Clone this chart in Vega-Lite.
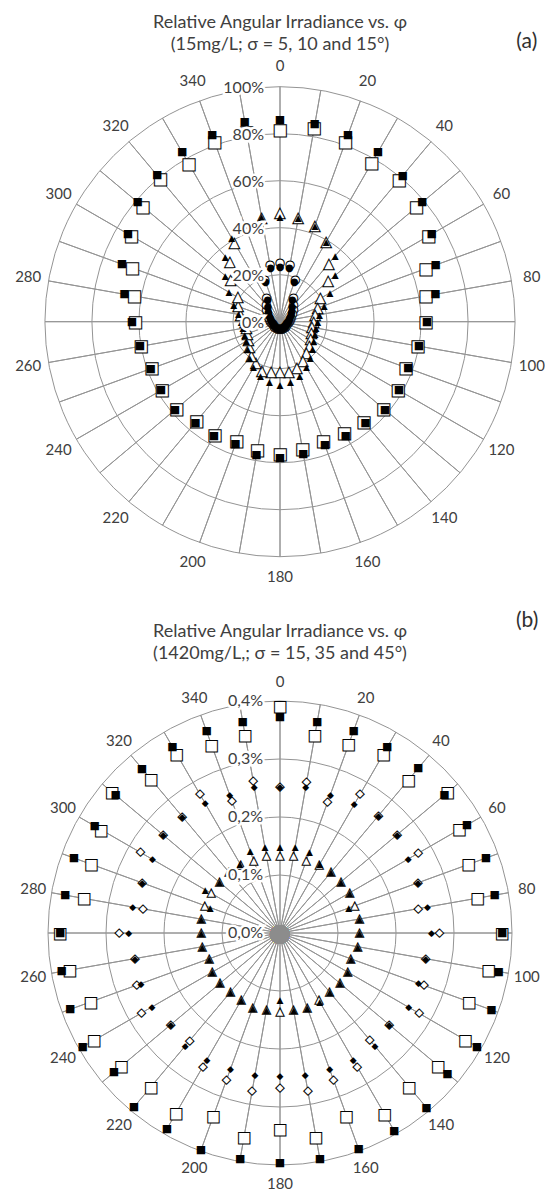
{
  "$schema": "https://vega.github.io/schema/vega-lite/v6.json",
  "padding": {"left": 15, "top": 0, "right": 0, "bottom": 0},
  "width": 530,
  "height": 1190,
  "resolve": {"scale": {"radius": "independent"}},
  "config": {
    "view": {"stroke": null},
    "locale": {"number": {"decimal": ",", "thousands": ".", "grouping": [3], "currency": ["", " €"]}}
  },
  "datasets": {
    "a": [
      {"phi": 0, "SQF": 0.858, "SQO": 0.816, "TRF": 0.447, "TRO": 0.461, "CIF": 0.234, "CIO": 0.248},
      {"phi": 10, "SQF": 0.853, "SQO": 0.835, "TRF": 0.446, "TRO": 0.446, "CIF": 0.230, "CIO": 0.245},
      {"phi": 20, "SQF": 0.845, "SQO": 0.814, "TRF": 0.434, "TRO": 0.434, "CIF": 0.180, "CIO": 0.190},
      {"phi": 30, "SQF": 0.833, "SQO": 0.779, "TRF": 0.393, "TRO": 0.393, "CIF": 0.105, "CIO": 0.115},
      {"phi": 40, "SQF": 0.812, "SQO": 0.789, "TRF": 0.366, "TRO": 0.323, "CIF": 0.080, "CIO": 0.090},
      {"phi": 50, "SQF": 0.790, "SQO": 0.757, "TRF": 0.306, "TRO": 0.268, "CIF": 0.065, "CIO": 0.075},
      {"phi": 60, "SQF": 0.745, "SQO": 0.730, "TRF": 0.245, "TRO": 0.198, "CIF": 0.055, "CIO": 0.062},
      {"phi": 70, "SQF": 0.705, "SQO": 0.660, "TRF": 0.200, "TRO": 0.170, "CIF": 0.045, "CIO": 0.050},
      {"phi": 80, "SQF": 0.672, "SQO": 0.630, "TRF": 0.170, "TRO": 0.152, "CIF": 0.040, "CIO": 0.045},
      {"phi": 90, "SQF": 0.625, "SQO": 0.620, "TRF": 0.160, "TRO": 0.143, "CIF": 0.035, "CIO": 0.040},
      {"phi": 100, "SQF": 0.600, "SQO": 0.595, "TRF": 0.155, "TRO": 0.138, "CIF": 0.032, "CIO": 0.035},
      {"phi": 110, "SQF": 0.580, "SQO": 0.570, "TRF": 0.158, "TRO": 0.142, "CIF": 0.030, "CIO": 0.033},
      {"phi": 120, "SQF": 0.585, "SQO": 0.580, "TRF": 0.165, "TRO": 0.150, "CIF": 0.030, "CIO": 0.032},
      {"phi": 130, "SQF": 0.583, "SQO": 0.575, "TRF": 0.180, "TRO": 0.163, "CIF": 0.030, "CIO": 0.032},
      {"phi": 140, "SQF": 0.565, "SQO": 0.555, "TRF": 0.200, "TRO": 0.175, "CIF": 0.030, "CIO": 0.032},
      {"phi": 150, "SQF": 0.560, "SQO": 0.548, "TRF": 0.225, "TRO": 0.195, "CIF": 0.030, "CIO": 0.032},
      {"phi": 160, "SQF": 0.558, "SQO": 0.540, "TRF": 0.244, "TRO": 0.210, "CIF": 0.030, "CIO": 0.032},
      {"phi": 170, "SQF": 0.570, "SQO": 0.550, "TRF": 0.259, "TRO": 0.217, "CIF": 0.030, "CIO": 0.032},
      {"phi": 180, "SQF": 0.580, "SQO": 0.565, "TRF": 0.270, "TRO": 0.213, "CIF": 0.030, "CIO": 0.032},
      {"phi": 190, "SQF": 0.575, "SQO": 0.555, "TRF": 0.259, "TRO": 0.217, "CIF": 0.030, "CIO": 0.032},
      {"phi": 200, "SQF": 0.555, "SQO": 0.540, "TRF": 0.244, "TRO": 0.225, "CIF": 0.030, "CIO": 0.032},
      {"phi": 210, "SQF": 0.563, "SQO": 0.555, "TRF": 0.225, "TRO": 0.205, "CIF": 0.030, "CIO": 0.032},
      {"phi": 220, "SQF": 0.560, "SQO": 0.552, "TRF": 0.200, "TRO": 0.190, "CIF": 0.030, "CIO": 0.032},
      {"phi": 230, "SQF": 0.583, "SQO": 0.575, "TRF": 0.180, "TRO": 0.170, "CIF": 0.030, "CIO": 0.032},
      {"phi": 240, "SQF": 0.585, "SQO": 0.580, "TRF": 0.165, "TRO": 0.155, "CIF": 0.030, "CIO": 0.032},
      {"phi": 250, "SQF": 0.585, "SQO": 0.580, "TRF": 0.160, "TRO": 0.148, "CIF": 0.030, "CIO": 0.033},
      {"phi": 260, "SQF": 0.605, "SQO": 0.600, "TRF": 0.160, "TRO": 0.145, "CIF": 0.032, "CIO": 0.035},
      {"phi": 270, "SQF": 0.630, "SQO": 0.616, "TRF": 0.165, "TRO": 0.148, "CIF": 0.035, "CIO": 0.040},
      {"phi": 280, "SQF": 0.672, "SQO": 0.630, "TRF": 0.180, "TRO": 0.170, "CIF": 0.040, "CIO": 0.045},
      {"phi": 290, "SQF": 0.716, "SQO": 0.669, "TRF": 0.210, "TRO": 0.190, "CIF": 0.045, "CIO": 0.050},
      {"phi": 300, "SQF": 0.747, "SQO": 0.731, "TRF": 0.251, "TRO": 0.207, "CIF": 0.055, "CIO": 0.062},
      {"phi": 310, "SQF": 0.790, "SQO": 0.762, "TRF": 0.304, "TRO": 0.274, "CIF": 0.065, "CIO": 0.075},
      {"phi": 320, "SQF": 0.813, "SQO": 0.792, "TRF": 0.362, "TRO": 0.331, "CIF": 0.080, "CIO": 0.090},
      {"phi": 330, "SQF": 0.833, "SQO": 0.776, "TRF": 0.410, "TRO": 0.388, "CIF": 0.105, "CIO": 0.115},
      {"phi": 340, "SQF": 0.845, "SQO": 0.815, "TRF": 0.440, "TRO": 0.430, "CIF": 0.180, "CIO": 0.190},
      {"phi": 350, "SQF": 0.864, "SQO": 0.820, "TRF": 0.453, "TRO": 0.450, "CIF": 0.230, "CIO": 0.245}
    ],
    "b": [
      {"phi": 0, "SQF": 0.00372, "SQO": 0.00392, "DMF": 0.00251, "DMO": 0.00252, "TRF": 0.00149, "TRO": 0.00132, "GRY": 0},
      {"phi": 10, "SQF": 0.00369, "SQO": 0.00346, "DMF": 0.00255, "DMO": 0.00264, "TRF": 0.00151, "TRO": 0.00134, "GRY": 0},
      {"phi": 20, "SQF": 0.00371, "SQO": 0.00346, "DMF": 0.00254, "DMO": 0.00240, "TRF": 0.00148, "TRO": 0.00132, "GRY": 0},
      {"phi": 30, "SQF": 0.00370, "SQO": 0.00357, "DMF": 0.00256, "DMO": 0.00276, "TRF": 0.00137, "TRO": 0.00135, "GRY": 0},
      {"phi": 40, "SQF": 0.00371, "SQO": 0.00345, "DMF": 0.00264, "DMO": 0.00264, "TRF": 0.00137, "TRO": 0.00137, "GRY": 0},
      {"phi": 50, "SQF": 0.00370, "SQO": 0.00377, "DMF": 0.00264, "DMO": 0.00264, "TRF": 0.00137, "TRO": 0.00137, "GRY": 0},
      {"phi": 60, "SQF": 0.00372, "SQO": 0.00357, "DMF": 0.00255, "DMO": 0.00275, "TRF": 0.00139, "TRO": 0.00139, "GRY": 0},
      {"phi": 70, "SQF": 0.00378, "SQO": 0.00346, "DMF": 0.00253, "DMO": 0.00253, "TRF": 0.00126, "TRO": 0.00137, "GRY": 0},
      {"phi": 80, "SQF": 0.00376, "SQO": 0.00346, "DMF": 0.00258, "DMO": 0.00242, "TRF": 0.00139, "TRO": 0.00139, "GRY": 0},
      {"phi": 90, "SQF": 0.00383, "SQO": 0.00383, "DMF": 0.00261, "DMO": 0.00275, "TRF": 0.00137, "TRO": 0.00137, "GRY": 0},
      {"phi": 100, "SQF": 0.00383, "SQO": 0.00365, "DMF": 0.00255, "DMO": 0.00255, "TRF": 0.00136, "TRO": 0.00136, "GRY": 0},
      {"phi": 110, "SQF": 0.00388, "SQO": 0.00347, "DMF": 0.00254, "DMO": 0.00264, "TRF": 0.00130, "TRO": 0.00130, "GRY": 0},
      {"phi": 120, "SQF": 0.00392, "SQO": 0.00369, "DMF": 0.00256, "DMO": 0.00277, "TRF": 0.00135, "TRO": 0.00135, "GRY": 0},
      {"phi": 130, "SQF": 0.00377, "SQO": 0.00356, "DMF": 0.00246, "DMO": 0.00246, "TRF": 0.00135, "TRO": 0.00135, "GRY": 0},
      {"phi": 140, "SQF": 0.00393, "SQO": 0.00346, "DMF": 0.00255, "DMO": 0.00241, "TRF": 0.00133, "TRO": 0.00133, "GRY": 0},
      {"phi": 150, "SQF": 0.00394, "SQO": 0.00361, "DMF": 0.00252, "DMO": 0.00266, "TRF": 0.00137, "TRO": 0.00134, "GRY": 0},
      {"phi": 160, "SQF": 0.00397, "SQO": 0.00335, "DMF": 0.00250, "DMO": 0.00270, "TRF": 0.00137, "TRO": 0.00137, "GRY": 0},
      {"phi": 170, "SQF": 0.00396, "SQO": 0.00357, "DMF": 0.00249, "DMO": 0.00277, "TRF": 0.00135, "TRO": 0.00135, "GRY": 0},
      {"phi": 180, "SQF": 0.00397, "SQO": 0.00338, "DMF": 0.00247, "DMO": 0.00267, "TRF": 0.00116, "TRO": 0.00137, "GRY": 0},
      {"phi": 190, "SQF": 0.00396, "SQO": 0.00357, "DMF": 0.00249, "DMO": 0.00277, "TRF": 0.00135, "TRO": 0.00135, "GRY": 0},
      {"phi": 200, "SQF": 0.00398, "SQO": 0.00336, "DMF": 0.00250, "DMO": 0.00270, "TRF": 0.00137, "TRO": 0.00137, "GRY": 0},
      {"phi": 210, "SQF": 0.00390, "SQO": 0.00358, "DMF": 0.00252, "DMO": 0.00266, "TRF": 0.00134, "TRO": 0.00134, "GRY": 0},
      {"phi": 220, "SQF": 0.00392, "SQO": 0.00346, "DMF": 0.00254, "DMO": 0.00242, "TRF": 0.00133, "TRO": 0.00133, "GRY": 0},
      {"phi": 230, "SQF": 0.00374, "SQO": 0.00357, "DMF": 0.00246, "DMO": 0.00246, "TRF": 0.00135, "TRO": 0.00135, "GRY": 0},
      {"phi": 240, "SQF": 0.00393, "SQO": 0.00370, "DMF": 0.00255, "DMO": 0.00276, "TRF": 0.00135, "TRO": 0.00135, "GRY": 0},
      {"phi": 250, "SQF": 0.00385, "SQO": 0.00347, "DMF": 0.00255, "DMO": 0.00263, "TRF": 0.00130, "TRO": 0.00130, "GRY": 0},
      {"phi": 260, "SQF": 0.00382, "SQO": 0.00368, "DMF": 0.00254, "DMO": 0.00254, "TRF": 0.00136, "TRO": 0.00136, "GRY": 0},
      {"phi": 270, "SQF": 0.00379, "SQO": 0.00379, "DMF": 0.00261, "DMO": 0.00277, "TRF": 0.00136, "TRO": 0.00136, "GRY": 0},
      {"phi": 280, "SQF": 0.00376, "SQO": 0.00343, "DMF": 0.00258, "DMO": 0.00240, "TRF": 0.00138, "TRO": 0.00138, "GRY": 0},
      {"phi": 290, "SQF": 0.00378, "SQO": 0.00346, "DMF": 0.00253, "DMO": 0.00253, "TRF": 0.00128, "TRO": 0.00138, "GRY": 0},
      {"phi": 300, "SQF": 0.00369, "SQO": 0.00356, "DMF": 0.00254, "DMO": 0.00278, "TRF": 0.00149, "TRO": 0.00137, "GRY": 0},
      {"phi": 310, "SQF": 0.00370, "SQO": 0.00378, "DMF": 0.00263, "DMO": 0.00263, "TRF": 0.00136, "TRO": 0.00136, "GRY": 0},
      {"phi": 320, "SQF": 0.00370, "SQO": 0.00346, "DMF": 0.00262, "DMO": 0.00262, "TRF": 0.00137, "TRO": 0.00137, "GRY": 0},
      {"phi": 330, "SQF": 0.00371, "SQO": 0.00357, "DMF": 0.00258, "DMO": 0.00276, "TRF": 0.00138, "TRO": 0.00135, "GRY": 0},
      {"phi": 340, "SQF": 0.00370, "SQO": 0.00345, "DMF": 0.00253, "DMO": 0.00242, "TRF": 0.00150, "TRO": 0.00133, "GRY": 0},
      {"phi": 350, "SQF": 0.00370, "SQO": 0.00347, "DMF": 0.00256, "DMO": 0.00266, "TRF": 0.00150, "TRO": 0.00134, "GRY": 0}
    ],
    "ringsA": [{"v": 0}, {"v": 0.2}, {"v": 0.4}, {"v": 0.6}, {"v": 0.8}, {"v": 1}],
    "ringsB": [{"v": 0}, {"v": 0.001}, {"v": 0.002}, {"v": 0.003}, {"v": 0.004}],
    "titles": [
      {"panel": "a", "title": ["Relative Angular Irradiance vs. φ", "(15mg/L; σ = 5, 10 and 15°)"], "tag": "(a)"},
      {"panel": "b", "title": ["Relative Angular Irradiance vs. φ", "(1420mg/L,; σ = 15, 35 and 45°)"], "tag": "(b)"}
    ]
  },
  "layer": [
    {"data": {"name": "ringsA"}, "mark": {"type": "arc", "filled": false, "stroke": "#949494", "strokeWidth": 1, "theta": 0, "theta2": 6.2832},
     "encoding": {"y": {"datum": "a", "type": "nominal", "scale": {"type": "point", "domain": ["a", "b"], "range": [321.7, 933], "padding": 0}, "axis": null},
                  "radius": {"field": "v", "type": "quantitative", "stack": null, "scale": {"type": "linear", "domain": [0, 1], "range": [0, 235]}}}},
    {"data": {"name": "a"}, "mark": {"type": "arc", "filled": false, "stroke": "#949494", "strokeWidth": 1},
     "encoding": {"y": {"datum": "a", "type": "nominal", "axis": null},
                  "theta": {"field": "phi", "type": "quantitative", "stack": null, "scale": {"domain": [0, 360]}}, "theta2": {"field": "phi"},
                  "radius": {"datum": 1, "type": "quantitative", "stack": null, "scale": {"type": "linear", "domain": [0, 1], "range": [0, 235]}}}},
    {"data": {"name": "a"}, "mark": {"type": "text", "text": "■", "font": "DejaVu Sans", "fontSize": 16, "fill": "white", "stroke": "black", "strokeWidth": 1, "opacity": 0.99, "align": "center", "baseline": "middle"},
     "encoding": {"y": {"datum": "a", "type": "nominal", "axis": null},
                  "theta": {"field": "phi", "type": "quantitative", "scale": {"domain": [0, 360]}},
                  "radius": {"field": "SQO", "type": "quantitative", "scale": {"type": "linear", "domain": [0, 1], "range": [0, 235]}}}},
    {"data": {"name": "a"}, "mark": {"type": "text", "text": "■", "font": "DejaVu Sans", "fontSize": 11, "fill": "black", "opacity": 0.99, "align": "center", "baseline": "middle"},
     "encoding": {"y": {"datum": "a", "type": "nominal", "axis": null},
                  "theta": {"field": "phi", "type": "quantitative", "scale": {"domain": [0, 360]}},
                  "radius": {"field": "SQF", "type": "quantitative", "scale": {"type": "linear", "domain": [0, 1], "range": [0, 235]}}}},
    {"data": {"name": "a"}, "mark": {"type": "text", "text": "▲", "font": "DejaVu Sans", "fontSize": 14, "fill": "white", "stroke": "black", "strokeWidth": 1, "opacity": 0.99, "align": "center", "baseline": "middle"},
     "encoding": {"y": {"datum": "a", "type": "nominal", "axis": null},
                  "theta": {"field": "phi", "type": "quantitative", "scale": {"domain": [0, 360]}},
                  "radius": {"field": "TRO", "type": "quantitative", "scale": {"type": "linear", "domain": [0, 1], "range": [0, 235]}}}},
    {"data": {"name": "a"}, "mark": {"type": "text", "text": "▲", "font": "DejaVu Sans", "fontSize": 9, "fill": "black", "opacity": 0.99, "align": "center", "baseline": "middle"},
     "encoding": {"y": {"datum": "a", "type": "nominal", "axis": null},
                  "theta": {"field": "phi", "type": "quantitative", "scale": {"domain": [0, 360]}},
                  "radius": {"field": "TRF", "type": "quantitative", "scale": {"type": "linear", "domain": [0, 1], "range": [0, 235]}}}},
    {"data": {"name": "a"}, "mark": {"type": "text", "text": "●", "font": "DejaVu Sans", "fontSize": 11, "fill": "white", "stroke": "black", "strokeWidth": 1, "opacity": 0.99, "align": "center", "baseline": "middle"},
     "encoding": {"y": {"datum": "a", "type": "nominal", "axis": null},
                  "theta": {"field": "phi", "type": "quantitative", "scale": {"domain": [0, 360]}},
                  "radius": {"field": "CIO", "type": "quantitative", "scale": {"type": "linear", "domain": [0, 1], "range": [0, 235]}}}},
    {"data": {"name": "a"}, "mark": {"type": "text", "text": "●", "font": "DejaVu Sans", "fontSize": 10, "fill": "black", "opacity": 0.99, "align": "center", "baseline": "middle"},
     "encoding": {"y": {"datum": "a", "type": "nominal", "axis": null},
                  "theta": {"field": "phi", "type": "quantitative", "scale": {"domain": [0, 360]}},
                  "radius": {"field": "CIF", "type": "quantitative", "scale": {"type": "linear", "domain": [0, 1], "range": [0, 235]}}}},
    {"data": {"name": "a"}, "transform": [{"filter": "datum.phi % 20 === 0"}],
     "mark": {"type": "text", "font": "Lato", "fontSize": 15, "fill": "#404040", "align": "center", "baseline": "middle"},
     "encoding": {"y": {"datum": "a", "type": "nominal", "axis": null},
                  "theta": {"field": "phi", "type": "quantitative", "scale": {"domain": [0, 360]}},
                  "radius": {"datum": 1.088, "type": "quantitative", "scale": {"type": "linear", "domain": [0, 1], "range": [0, 235]}},
                  "text": {"field": "phi", "type": "quantitative"}}},
    {"data": {"name": "ringsA"}, "mark": {"type": "text", "theta": 0, "font": "Lato", "fontSize": 16, "fill": "white", "stroke": "white", "strokeWidth": 5, "align": "right", "baseline": "middle", "dx": -16, "dy": 1},
     "encoding": {"y": {"datum": "a", "type": "nominal", "axis": null},
                  "radius": {"field": "v", "type": "quantitative", "scale": {"type": "linear", "domain": [0, 1], "range": [0, 235]}},
                  "text": {"field": "v", "type": "quantitative", "format": ".0%"}}},
    {"data": {"name": "ringsA"}, "mark": {"type": "text", "theta": 0, "font": "Lato", "fontSize": 16, "fill": "#404040", "align": "right", "baseline": "middle", "dx": -16, "dy": 1},
     "encoding": {"y": {"datum": "a", "type": "nominal", "axis": null},
                  "radius": {"field": "v", "type": "quantitative", "scale": {"type": "linear", "domain": [0, 1], "range": [0, 235]}},
                  "text": {"field": "v", "type": "quantitative", "format": ".0%"}}},
    {"data": {"name": "titles"}, "transform": [{"filter": "datum.panel === 'a'"}],
     "mark": {"type": "text", "theta": 0, "font": "Lato", "fontSize": 18, "fill": "#404040", "align": "center", "baseline": "middle", "lineHeight": 22.5},
     "encoding": {"y": {"datum": "a", "type": "nominal", "axis": null},
                  "radius": {"datum": 1.272, "type": "quantitative", "scale": {"type": "linear", "domain": [0, 1], "range": [0, 235]}},
                  "text": {"field": "title"}}},
    {"data": {"name": "titles"}, "transform": [{"filter": "datum.panel === 'a'"}],
     "mark": {"type": "text", "font": "Lato", "fontSize": 21, "fill": "#303030", "align": "center", "baseline": "middle"},
     "encoding": {"y": {"datum": "a", "type": "nominal", "axis": null},
                  "theta": {"datum": 41.4, "type": "quantitative", "scale": {"domain": [0, 360]}},
                  "radius": {"datum": 1.588, "type": "quantitative", "scale": {"type": "linear", "domain": [0, 1], "range": [0, 235]}},
                  "text": {"field": "tag"}}},

    {"data": {"name": "ringsB"}, "mark": {"type": "arc", "filled": false, "stroke": "#949494", "strokeWidth": 1, "theta": 0, "theta2": 6.2832},
     "encoding": {"y": {"datum": "b", "type": "nominal", "axis": null},
                  "radius": {"field": "v", "type": "quantitative", "stack": null, "scale": {"type": "linear", "domain": [0, 0.004], "range": [0, 232]}}}},
    {"data": {"name": "b"}, "mark": {"type": "arc", "filled": false, "stroke": "#949494", "strokeWidth": 1},
     "encoding": {"y": {"datum": "b", "type": "nominal", "axis": null},
                  "theta": {"field": "phi", "type": "quantitative", "stack": null, "scale": {"domain": [0, 360]}}, "theta2": {"field": "phi"},
                  "radius": {"datum": 0.004, "type": "quantitative", "stack": null, "scale": {"type": "linear", "domain": [0, 0.004], "range": [0, 232]}}}},
    {"data": {"name": "b"}, "mark": {"type": "text", "text": "●", "font": "DejaVu Sans", "fontSize": 25, "fill": "#8c8c8c", "opacity": 0.99, "align": "center", "baseline": "middle"},
     "encoding": {"y": {"datum": "b", "type": "nominal", "axis": null},
                  "theta": {"field": "phi", "type": "quantitative", "scale": {"domain": [0, 360]}},
                  "radius": {"field": "GRY", "type": "quantitative", "scale": {"type": "linear", "domain": [0, 0.004], "range": [0, 232]}}}},
    {"data": {"name": "b"}, "mark": {"type": "text", "text": "■", "font": "DejaVu Sans", "fontSize": 15, "fill": "white", "stroke": "black", "strokeWidth": 1, "opacity": 0.99, "align": "center", "baseline": "middle"},
     "encoding": {"y": {"datum": "b", "type": "nominal", "axis": null},
                  "theta": {"field": "phi", "type": "quantitative", "scale": {"domain": [0, 360]}},
                  "radius": {"field": "SQO", "type": "quantitative", "scale": {"type": "linear", "domain": [0, 0.004], "range": [0, 232]}}}},
    {"data": {"name": "b"}, "mark": {"type": "text", "text": "■", "font": "DejaVu Sans", "fontSize": 11, "fill": "black", "opacity": 0.99, "align": "center", "baseline": "middle"},
     "encoding": {"y": {"datum": "b", "type": "nominal", "axis": null},
                  "theta": {"field": "phi", "type": "quantitative", "scale": {"domain": [0, 360]}},
                  "radius": {"field": "SQF", "type": "quantitative", "scale": {"type": "linear", "domain": [0, 0.004], "range": [0, 232]}}}},
    {"data": {"name": "b"}, "mark": {"type": "text", "text": "◆", "font": "DejaVu Sans", "fontSize": 11, "fill": "white", "stroke": "black", "strokeWidth": 1, "opacity": 0.99, "align": "center", "baseline": "middle"},
     "encoding": {"y": {"datum": "b", "type": "nominal", "axis": null},
                  "theta": {"field": "phi", "type": "quantitative", "scale": {"domain": [0, 360]}},
                  "radius": {"field": "DMO", "type": "quantitative", "scale": {"type": "linear", "domain": [0, 0.004], "range": [0, 232]}}}},
    {"data": {"name": "b"}, "mark": {"type": "text", "text": "◆", "font": "DejaVu Sans", "fontSize": 9, "fill": "black", "opacity": 0.99, "align": "center", "baseline": "middle"},
     "encoding": {"y": {"datum": "b", "type": "nominal", "axis": null},
                  "theta": {"field": "phi", "type": "quantitative", "scale": {"domain": [0, 360]}},
                  "radius": {"field": "DMF", "type": "quantitative", "scale": {"type": "linear", "domain": [0, 0.004], "range": [0, 232]}}}},
    {"data": {"name": "b"}, "mark": {"type": "text", "text": "▲", "font": "DejaVu Sans", "fontSize": 11, "fill": "white", "stroke": "black", "strokeWidth": 1, "opacity": 0.99, "align": "center", "baseline": "middle"},
     "encoding": {"y": {"datum": "b", "type": "nominal", "axis": null},
                  "theta": {"field": "phi", "type": "quantitative", "scale": {"domain": [0, 360]}},
                  "radius": {"field": "TRO", "type": "quantitative", "scale": {"type": "linear", "domain": [0, 0.004], "range": [0, 232]}}}},
    {"data": {"name": "b"}, "mark": {"type": "text", "text": "▲", "font": "DejaVu Sans", "fontSize": 9, "fill": "black", "opacity": 0.99, "align": "center", "baseline": "middle"},
     "encoding": {"y": {"datum": "b", "type": "nominal", "axis": null},
                  "theta": {"field": "phi", "type": "quantitative", "scale": {"domain": [0, 360]}},
                  "radius": {"field": "TRF", "type": "quantitative", "scale": {"type": "linear", "domain": [0, 0.004], "range": [0, 232]}}}},
    {"data": {"name": "b"}, "transform": [{"filter": "datum.phi % 20 === 0"}],
     "mark": {"type": "text", "font": "Lato", "fontSize": 15, "fill": "#404040", "align": "center", "baseline": "middle"},
     "encoding": {"y": {"datum": "b", "type": "nominal", "axis": null},
                  "theta": {"field": "phi", "type": "quantitative", "scale": {"domain": [0, 360]}},
                  "radius": {"datum": 0.00432, "type": "quantitative", "scale": {"type": "linear", "domain": [0, 0.004], "range": [0, 232]}},
                  "text": {"field": "phi", "type": "quantitative"}}},
    {"data": {"name": "ringsB"}, "mark": {"type": "text", "theta": 0, "font": "Lato", "fontSize": 16, "fill": "white", "stroke": "white", "strokeWidth": 5, "align": "right", "baseline": "middle", "dx": -17},
     "encoding": {"y": {"datum": "b", "type": "nominal", "axis": null},
                  "radius": {"field": "v", "type": "quantitative", "scale": {"type": "linear", "domain": [0, 0.004], "range": [0, 232]}},
                  "text": {"field": "v", "type": "quantitative", "format": ".1%"}}},
    {"data": {"name": "ringsB"}, "mark": {"type": "text", "theta": 0, "font": "Lato", "fontSize": 16, "fill": "#404040", "align": "right", "baseline": "middle", "dx": -17},
     "encoding": {"y": {"datum": "b", "type": "nominal", "axis": null},
                  "radius": {"field": "v", "type": "quantitative", "scale": {"type": "linear", "domain": [0, 0.004], "range": [0, 232]}},
                  "text": {"field": "v", "type": "quantitative", "format": ".1%"}}},
    {"data": {"name": "titles"}, "transform": [{"filter": "datum.panel === 'b'"}],
     "mark": {"type": "text", "theta": 0, "font": "Lato", "fontSize": 18, "fill": "#404040", "align": "center", "baseline": "middle", "lineHeight": 22.5},
     "encoding": {"y": {"datum": "b", "type": "nominal", "axis": null},
                  "radius": {"datum": 0.00519, "type": "quantitative", "scale": {"type": "linear", "domain": [0, 0.004], "range": [0, 232]}},
                  "text": {"field": "title"}}},
    {"data": {"name": "titles"}, "transform": [{"filter": "datum.panel === 'b'"}],
     "mark": {"type": "text", "font": "Lato", "fontSize": 21, "fill": "#303030", "align": "center", "baseline": "middle"},
     "encoding": {"y": {"datum": "b", "type": "nominal", "axis": null},
                  "theta": {"datum": 38.4, "type": "quantitative", "scale": {"domain": [0, 360]}},
                  "radius": {"datum": 0.00686, "type": "quantitative", "scale": {"type": "linear", "domain": [0, 0.004], "range": [0, 232]}},
                  "text": {"field": "tag"}}}
  ]
}
